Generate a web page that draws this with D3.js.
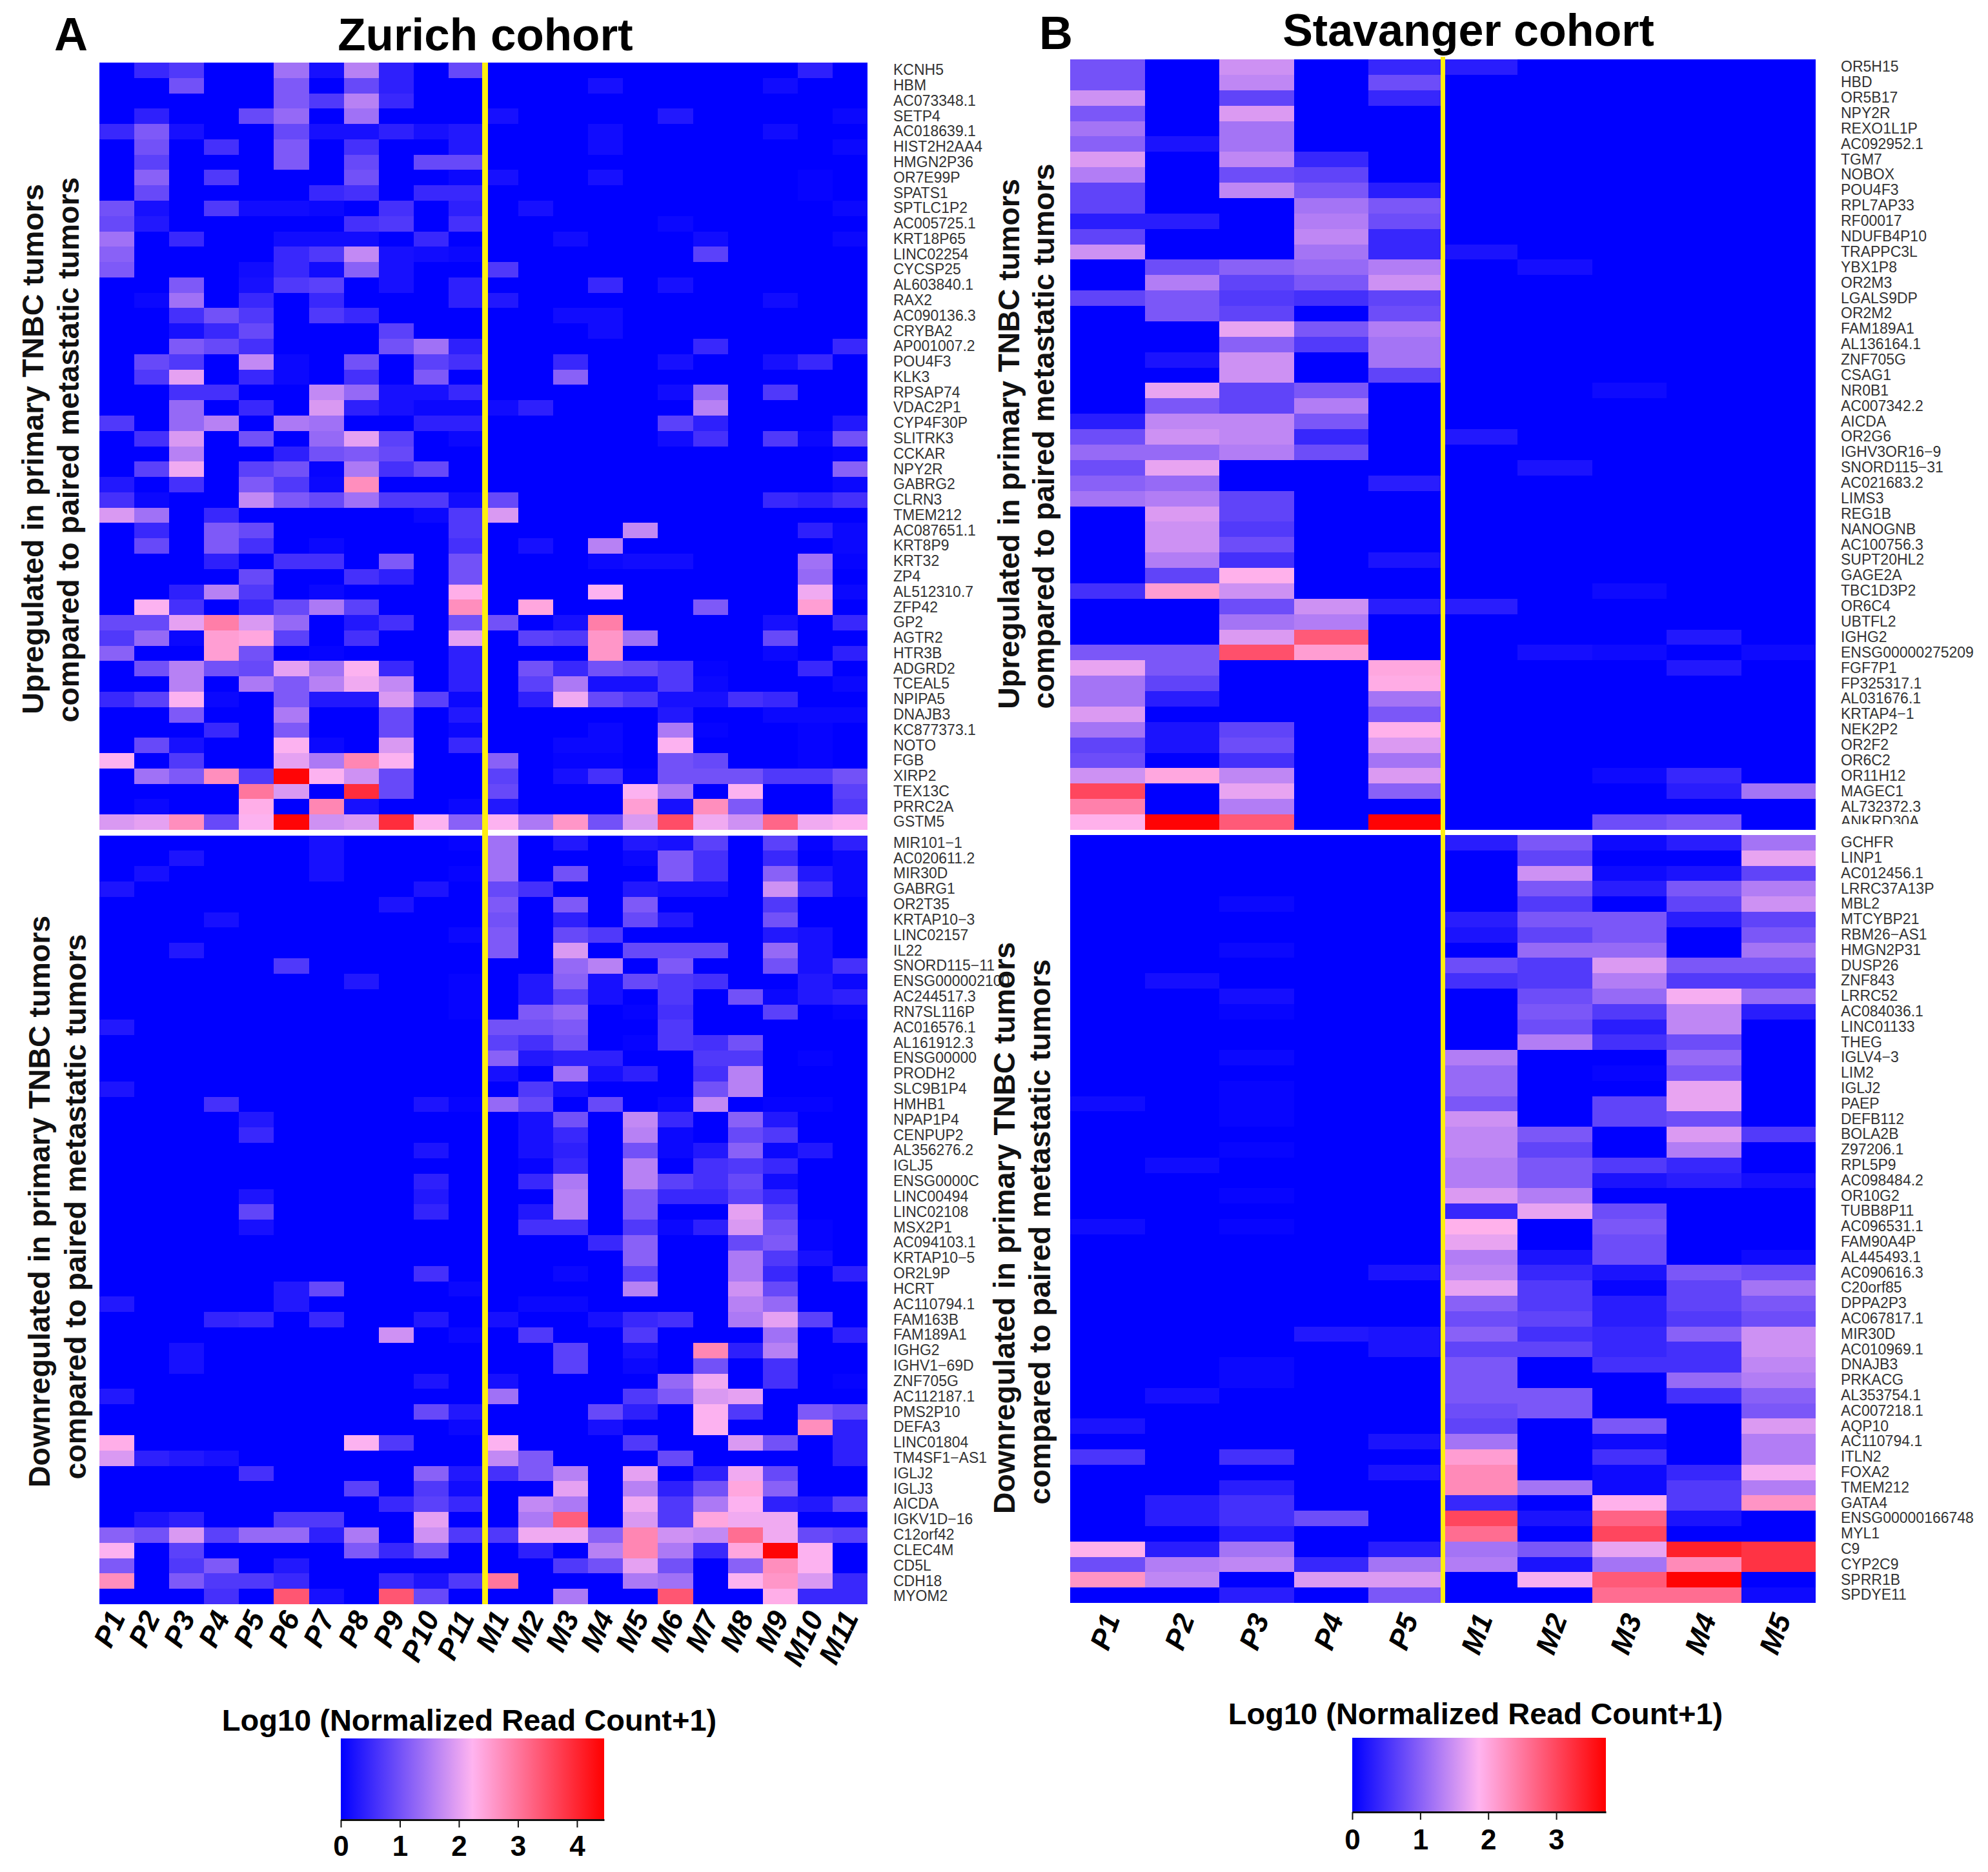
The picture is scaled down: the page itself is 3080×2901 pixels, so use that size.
<!DOCTYPE html>
<html>
<head>
<meta charset="utf-8">
<style>
  html, body { margin: 0; padding: 0; background: #fff; }
  svg { display: block; font-family: "Liberation Sans", Arial, sans-serif; }
</style>
<script src="https://cdn.jsdelivr.net/npm/d3@7"></script>
</head>
<body>
<svg id="chart" width="3080" height="2901"></svg>
<script>
// Sample labels
const zurichSamples = ["P1","P2","P3","P4","P5","P6","P7","P8","P9","P10","P11","M1","M2","M3","M4","M5","M6","M7","M8","M9","M10","M11"];
const stavangerSamples = ["P1","P2","P3","P4","P5","M1","M2","M3","M4","M5"];

// Gene labels
const zurichUpGenes = ["KCNH5","HBM","AC073348.1","SETP4","AC018639.1","HIST2H2AA4","HMGN2P36","OR7E99P","SPATS1","SPTLC1P2","AC005725.1","KRT18P65","LINC02254","CYCSP25","AL603840.1","RAX2","AC090136.3","CRYBA2","AP001007.2","POU4F3","KLK3","RPSAP74","VDAC2P1","CYP4F30P","SLITRK3","CCKAR","NPY2R","GABRG2","CLRN3","TMEM212","AC087651.1","KRT8P9","KRT32","ZP4","AL512310.7","ZFP42","GP2","AGTR2","HTR3B","ADGRD2","TCEAL5","NPIPA5","DNAJB3","KC877373.1","NOTO","FGB","XIRP2","TEX13C","PRRC2A","GSTM5"];
const zurichDownGenes = ["MIR101\u22121","AC020611.2","MIR30D","GABRG1","OR2T35","KRTAP10\u22123","LINC02157","IL22","SNORD115\u221211","ENSG000002100","AC244517.3","RN7SL116P","AC016576.1","AL161912.3","ENSG00000","PRODH2","SLC9B1P4","HMHB1","NPAP1P4","CENPUP2","AL356276.2","IGLJ5","ENSG0000C","LINC00494","LINC02108","MSX2P1","AC094103.1","KRTAP10\u22125","OR2L9P","HCRT","AC110794.1","FAM163B","FAM189A1","IGHG2","IGHV1\u221269D","ZNF705G","AC112187.1","PMS2P10","DEFA3","LINC01804","TM4SF1\u2212AS1","IGLJ2","IGLJ3","AICDA","IGKV1D\u221216","C12orf42","CLEC4M","CD5L","CDH18","MYOM2"];
const stavangerUpGenes = ["OR5H15","HBD","OR5B17","NPY2R","REXO1L1P","AC092952.1","TGM7","NOBOX","POU4F3","RPL7AP33","RF00017","NDUFB4P10","TRAPPC3L","YBX1P8","OR2M3","LGALS9DP","OR2M2","FAM189A1","AL136164.1","ZNF705G","CSAG1","NR0B1","AC007342.2","AICDA","OR2G6","IGHV3OR16\u22129","SNORD115\u221231","AC021683.2","LIMS3","REG1B","NANOGNB","AC100756.3","SUPT20HL2","GAGE2A","TBC1D3P2","OR6C4","UBTFL2","IGHG2","ENSG00000275209","FGF7P1","FP325317.1","AL031676.1","KRTAP4\u22121","NEK2P2","OR2F2","OR6C2","OR11H12","MAGEC1","AL732372.3","ANKRD30A"];
const stavangerDownGenes = ["GCHFR","LINP1","AC012456.1","LRRC37A13P","MBL2","MTCYBP21","RBM26\u2212AS1","HMGN2P31","DUSP26","ZNF843","LRRC52","AC084036.1","LINC01133","THEG","IGLV4\u22123","LIM2","IGLJ2","PAEP","DEFB112","BOLA2B","Z97206.1","RPL5P9","AC098484.2","OR10G2","TUBB8P11","AC096531.1","FAM90A4P","AL445493.1","AC090616.3","C20orf85","DPPA2P3","AC067817.1","MIR30D","AC010969.1","DNAJB3","PRKACG","AL353754.1","AC007218.1","AQP10","AC110794.1","ITLN2","FOXA2","TMEM212","GATA4","ENSG00000166748","MYL1","C9","CYP2C9","SPRR1B","SPDYE11"];

// Log10 values, one row per gene, columns as in the sample arrays
const zurichUpValues = [
[0,.5,.7,0,0,1.4,.2,1.6,.4,0,.9, 0,0,0,0,0,0,0,0,0,.4,0],
[0,0,1,0,0,1.1,0,.9,.4,0,0, 0,0,0,.2,0,0,0,0,.15,0,0],
[0,0,0,0,0,1.1,.7,1.6,.5,0,0, 0,0,0,0,0,0,0,0,0,0,0],
[0,.4,0,0,.9,1.3,0,1.4,0,0,0, .2,0,0,0,0,.3,0,0,0,0,.1],
[.5,1.1,.2,0,0,.9,.2,.2,.4,.2,.3, 0,0,0,.15,0,0,0,0,.15,0,0],
[0,1,0,.6,0,1.1,0,.6,0,0,.3, 0,0,0,.15,0,0,0,0,0,0,.1],
[0,.8,0,0,0,1.1,0,.9,0,.9,.9, 0,0,0,0,0,0,0,0,0,0,0],
[0,1.2,0,.7,0,0,0,1,0,0,.1, .2,0,0,.2,0,0,0,0,0,.05,0],
[0,.9,0,0,0,0,.5,.6,0,.5,.5, 0,0,0,0,0,0,0,0,0,.05,0],
[1,.2,0,.7,.15,.15,.1,0,.6,0,.4, 0,.2,0,0,0,0,0,0,0,0,.1],
[.9,.3,0,0,0,0,0,.6,.7,0,.6, 0,0,0,0,0,.1,0,0,0,0,0],
[1.4,0,.5,0,0,.15,.15,.15,0,.5,0, 0,0,.15,0,0,0,.15,0,0,0,.1],
[1.2,0,0,0,0,.5,.7,1.7,.2,.15,.1, 0,0,0,0,0,0,.8,0,0,0,0],
[1.1,0,0,0,.15,.5,.15,1.2,.2,0,0, .7,0,0,0,0,0,0,0,0,0,0],
[0,0,1.1,0,.2,.7,.8,0,.2,0,.4, 0,0,0,.5,0,.2,0,0,0,0,0],
[0,.1,1.4,0,.5,0,.5,0,0,0,.4, .3,0,0,0,0,0,0,0,.15,0,0],
[0,0,.6,1,.7,0,.7,.5,0,0,0, 0,0,.15,.15,0,0,0,0,0,0,0],
[0,0,.2,.5,.9,0,0,0,.8,0,0, 0,0,0,.15,0,0,0,0,0,0,0],
[0,0,1.1,.9,.6,0,0,0,1,1.4,.4, 0,0,0,0,0,0,.5,0,0,0,.5],
[0,.9,.7,0,1.7,.1,0,1,0,.8,.6, 0,0,.5,0,0,.2,0,0,.2,.5,0],
[0,.7,2,0,.5,.1,0,.6,0,1.1,0, 0,0,1.2,0,0,0,0,0,0,0,0],
[0,0,.6,.6,0,0,1.7,1.3,.2,.2,.5, 0,0,0,0,0,.15,1.3,0,.7,0,0],
[0,0,1.3,0,.5,0,1.9,.4,.2,.1,.1, .15,.4,0,0,0,0,1.6,0,0,0,0],
[.7,0,1.3,1.6,0,1.5,1.4,0,0,.4,.4, 0,0,0,0,0,.8,.4,0,0,0,.3],
[0,.6,1.9,0,1,0,1.3,2,.8,0,.1, 0,0,0,0,0,.15,.6,0,.7,.1,1],
[0,0,1.6,0,0,.4,1,1.1,.9,0,0, 0,0,0,0,0,0,0,0,0,0,.05],
[0,.8,2.1,0,.8,1,.05,1.5,.6,.9,0, 0,0,0,0,0,0,0,0,0,0,1.2],
[.3,0,.6,0,1.1,.7,.1,2.7,0,0,0, 0,0,0,0,0,0,0,0,0,0,.1],
[.6,.1,0,0,1.7,1.1,.9,1.4,.7,.7,.15, .9,0,0,0,0,0,0,0,.5,.4,.6],
[1.9,1.4,0,.5,0,0,0,0,0,.1,.7, 1.9,0,0,0,0,0,0,0,0,0,0],
[0,.5,0,1.1,.9,0,0,0,0,0,.7, 0,0,0,0,1.7,0,0,0,0,.4,.1],
[0,.9,0,1.1,.6,0,.1,0,0,0,.6, 0,.2,0,1.6,0,0,0,0,0,0,.1],
[0,0,0,.4,0,.6,.6,0,1.1,0,1, 0,0,0,.1,.15,.15,0,0,0,1.4,.05],
[0,0,0,0,.9,0,0,.6,.4,0,1, 0,0,0,0,0,0,0,0,0,1.3,0],
[0,0,.4,1.6,.7,0,.1,0,0,0,2.3, 0,0,0,2.2,0,0,0,0,0,2.1,.1],
[0,2.2,.6,0,.5,.9,1.5,.8,0,0,2.7, 0,2.4,0,0,0,0,1.1,0,0,2.5,0],
[.9,.9,2,2.9,1.9,1.3,0,.3,.6,0,1, 1,0,.2,2.9,0,0,0,0,.2,0,.5],
[.7,1.3,.1,2.5,2.4,.8,0,.6,0,0,2, 0,.8,.7,2.6,1.4,0,0,0,.9,0,0],
[1.2,0,0,2.5,1,0,.05,0,0,0,.4, 0,0,0,2.6,0,0,0,0,.1,0,.4],
[0,1,1.6,1,.9,2,1.4,2.2,.5,0,.4, 0,1,.5,1,.9,.7,.05,0,0,.5,0],
[0,0,1.6,0,1.5,1.1,1.6,2.1,1.7,0,.4, 0,.8,1.5,.2,.2,.7,.1,0,0,0,.1],
[.5,.8,2.2,.1,0,1.1,.3,.3,1.9,.8,.1, 0,.4,2.1,.9,.7,.2,.2,.6,.5,0,0],
[0,0,1.1,0,0,1.5,0,0,.9,0,.3, 0,0,0,0,0,.3,0,0,.1,.1,.1],
[0,0,0,.5,0,1.1,0,0,.9,0,.1, 0,0,0,.1,0,1.5,.05,0,0,.05,0],
[0,.9,.2,0,0,2.2,.1,0,1.9,0,.5, 0,0,.1,.1,0,2.2,0,0,0,.05,0],
[2.2,0,.7,0,0,2,1.5,2.8,2.2,0,0, 1.2,0,.05,.05,0,1,.9,0,0,.05,0],
[0,1.4,1.1,2.7,.7,4.4,2.2,1.8,.9,0,0, .8,0,.2,.6,.05,1,1,1,.7,.7,1],
[0,0,0,0,3,1.9,0,3.9,.9,0,0, .9,0,0,0,2.2,1.5,0,2.2,0,0,.8],
[0,.1,0,0,2.3,0,2.8,.2,0,0,.1, .3,0,0,0,2.5,.2,2.7,1.1,0,0,.7],
[1.9,2,2.7,.9,2.2,4.4,1.8,1.9,3.9,2.2,1.2, 2.2,1.5,2.6,1,1.9,3.5,2.1,1.8,3.2,2.1,2.2]
];
const zurichDownValues = [
[0,0,0,0,0,0,.2,0,0,0,.05, 1.4,0,.3,0,.3,.2,.8,0,.8,.05,.4],
[0,0,.25,0,0,0,.2,0,0,0,0, 1.4,0,0,0,.1,1.1,.6,0,.5,0,.1],
[0,.2,0,0,0,0,.2,0,0,0,.05, 1.4,0,1,0,0,1.1,.6,0,1.2,.3,.1],
[.25,0,0,0,0,0,0,0,0,.25,0, .9,.6,0,0,.3,.2,.2,0,1.8,.6,.1],
[0,0,0,0,0,0,0,0,.25,0,0, 1.1,0,1.1,0,1.1,0,0,0,.7,0,0],
[0,0,0,.2,0,0,0,0,0,0,0, 1,0,.4,0,.9,.3,0,0,1,0,0],
[0,0,0,0,0,0,0,0,0,0,.1, 1.1,0,.9,.7,0,0,0,0,.3,.2,0],
[0,0,.3,0,0,0,0,0,0,0,0, 1.1,0,1.9,0,.9,.9,.9,0,1.3,.2,0],
[0,0,0,0,0,.7,0,0,0,0,0, 0,0,1.3,1.6,0,1.1,0,0,1,.2,.6],
[0,0,0,0,0,0,0,.3,0,0,.05, 0,.3,1.2,.2,.9,.7,.6,0,0,.3,.1],
[0,0,0,0,0,0,0,0,0,0,.05, 0,.3,.8,.2,0,.7,0,1,.1,.3,.4],
[0,0,0,0,0,0,0,0,0,0,.05, 0,1.1,1.3,0,.05,.6,0,0,.8,0,.05],
[.3,0,0,0,0,0,0,0,0,0,0, 1,1,1.1,0,0,.7,0,0,0,0,0],
[0,0,0,0,0,0,0,0,0,0,0, .8,.6,1,0,.05,.7,.6,1,0,0,0],
[0,0,0,0,0,0,0,0,0,0,0, 1.2,.3,.4,.4,0,0,.7,.7,0,.05,0],
[0,0,0,0,0,0,0,0,0,0,0, .2,0,1.4,.2,.4,0,.6,1.6,0,0,0],
[.25,0,0,0,0,0,0,0,0,0,0, 0,.7,.2,0,0,0,1,1.6,0,0,0],
[0,0,0,.6,0,0,0,0,0,.25,.05, 1.3,.9,0,.9,0,.1,1.7,0,.05,.05,0],
[0,0,0,0,.3,0,0,0,0,0,0, 0,.2,1,0,1.7,.5,0,1.2,.3,0,0],
[0,0,0,0,.5,0,0,0,0,0,0, 0,.2,.5,0,1.6,.1,0,.9,.7,0,0],
[0,0,0,0,0,0,0,0,0,.25,0, 0,.2,.4,0,1,.1,.3,1.2,.1,.3,0],
[0,0,0,0,0,0,0,0,0,0,0, 0,.05,.5,0,1.6,0,.6,.7,.5,0,0],
[0,0,0,0,0,0,0,0,0,.4,0, 0,.5,1.5,0,1.6,.8,.6,.9,.15,0,0],
[0,0,0,0,.25,0,0,0,0,.3,0, 0,0,1.6,0,1.1,.5,.5,.8,.5,0,0],
[0,0,0,0,.85,0,0,0,0,.45,0, 0,.3,1.6,0,1.1,0,0,2,.8,0,0],
[0,0,0,0,.2,0,0,0,0,0,0, 0,.6,.6,0,.7,.1,.4,1.9,1,.05,0],
[0,0,0,0,0,0,0,0,0,0,0, 0,0,0,.5,1.2,0,0,.9,1.1,.05,0],
[0,0,0,0,0,0,0,0,0,0,0, 0,0,0,0,1.2,0,0,1.5,.7,.2,0],
[0,0,0,0,0,0,0,0,0,.6,0, 0,0,.1,0,.8,0,0,1.5,.5,0,.4],
[0,0,0,0,0,.3,.9,0,0,0,.1, 0,0,0,0,1.6,0,0,1.8,.9,0,0],
[.3,0,0,0,0,.3,0,0,0,0,0, 0,.1,.1,0,0,0,0,1.6,1.3,0,0],
[0,0,0,.45,.5,0,.5,0,0,.3,0, .2,0,0,.2,.5,.6,0,1.5,2,.8,0],
[0,0,0,0,0,0,0,0,1.8,0,.1, 0,.7,0,0,.7,0,0,0,1.4,0,.4],
[0,0,.2,0,0,0,0,0,0,0,0, 0,0,.8,0,.2,0,2.8,.4,1.6,0,0],
[0,0,.2,0,0,0,0,0,0,0,0, 0,0,.8,0,.1,0,1,0,.6,0,0],
[0,0,0,0,0,0,0,0,0,.25,0, .2,0,0,0,0,1.3,2.1,0,.6,0,.05],
[.3,0,0,0,0,0,0,0,0,0,0, 1.4,0,0,0,.7,1.1,1.9,2,0,0,0],
[0,0,0,0,0,0,0,0,0,.9,.3, 0,0,0,.9,.4,0,2.2,.7,0,1.1,.9],
[0,0,0,0,0,0,0,0,0,0,.1, 0,0,0,.2,0,0,2.2,0,0,2.7,.4],
[2.3,0,0,0,0,0,0,2.2,.7,0,0, 2.2,0,0,0,.7,0,0,1.9,1,0,.4],
[1.9,.4,.3,.2,0,0,0,0,0,0,0, 1.7,1.1,0,0,0,.9,0,0,0,0,.4],
[0,0,0,0,.6,0,0,0,0,1.2,.3, .6,1.1,1.6,0,2,0,.4,2.1,.9,0,0],
[0,0,0,0,0,0,0,.8,0,.7,.15, 0,0,2,0,1.6,.4,1,2.4,1.2,0,0],
[0,0,0,0,0,0,0,0,.5,.8,.5, 0,1.7,1.5,0,2.1,.7,1.5,2.2,.4,.3,.8],
[0,.25,.4,0,0,.7,.7,0,0,2,0, 0,1.5,3.3,0,1.9,.7,2.4,2.1,2.1,0,0],
[1.2,1,1.9,.8,1.3,1.3,.4,1.5,0,1.8,.7, .7,2.1,2.1,1.2,2.8,1.8,1.7,3.1,2.1,.9,.8],
[2.2,0,.8,0,0,0,0,1.1,.5,1,0, 0,.4,0,1.6,2.8,1.5,.5,2.4,4.4,2.2,0],
[1.1,0,.7,1.1,0,.3,0,0,0,0,0, 0,0,.7,1,2,1,0,1.2,2.7,2.2,0],
[2.7,0,1.1,.7,.7,.5,0,0,.5,.25,.7, 3,0,0,0,1.5,1.4,0,2.2,2.6,1.9,.5],
[0,0,0,.6,0,3.4,.2,0,3.4,.9,0, 0,0,1.5,0,0,3.4,0,0,2.3,.5,.5]
];
const stavangerUpValues = [
[.85,0,1.5,0,.4, .3,0,0,0,0],
[.85,0,1.4,0,.8, 0,0,0,0,0],
[1.5,0,.7,0,.4, 0,0,0,0,0],
[.9,0,1.6,0,0, 0,0,0,0,0],
[1.2,0,1.2,0,0, 0,0,0,0,0],
[1,.2,1.2,0,0, 0,0,0,0,0],
[1.6,0,1.4,.4,0, 0,0,0,0,0],
[1.3,0,.8,.7,0, 0,0,0,0,0],
[.7,0,1.4,.9,.3, 0,0,0,0,0],
[.7,0,0,1.2,.9, 0,0,0,0,0],
[.3,.3,0,1.3,.8, 0,0,0,0,0],
[.7,0,0,1.4,.4, 0,0,0,0,0],
[1.5,0,0,1.2,.4, .2,0,0,0,0],
[0,.8,1,1.1,1.3, 0,.15,0,0,0],
[0,1.3,.7,.9,1.5, 0,0,0,0,0],
[.7,.9,.6,.5,.7, 0,0,0,0,0],
[0,.9,.7,0,.8, 0,0,0,0,0],
[0,0,1.7,.9,1.3, 0,0,0,0,0],
[0,0,1,.6,1.2, 0,0,0,0,0],
[0,.2,1.5,0,1.2, 0,0,0,0,0],
[0,0,1.5,0,.7, 0,0,0,0,0],
[0,1.7,.7,.9,0, 0,0,.1,0,0],
[0,.9,.7,1.3,0, 0,0,0,0,0],
[.3,1.4,1.4,.9,0, 0,0,0,0,0],
[.8,1.5,1.4,.4,0, .25,0,0,0,0],
[1.1,1.1,1.3,.8,0, 0,0,0,0,0],
[.8,1.7,0,0,0, 0,.2,0,0,0],
[1,1.1,0,0,.3, 0,0,0,0,0],
[1.2,1.3,.7,0,0, 0,0,0,0,0],
[0,1.6,.7,0,0, 0,0,0,0,0],
[0,1.5,.6,0,0, 0,0,0,0,0],
[0,1.5,.8,0,0, 0,0,0,0,0],
[0,1.3,.5,0,.2, 0,0,0,0,0],
[0,.7,1.9,0,0, 0,0,0,0,0],
[.5,2.1,1.5,0,0, 0,0,.1,0,0],
[0,0,.8,1.5,.3, .3,0,0,0,0],
[0,0,1.2,1.3,0, 0,0,0,0,0],
[0,0,1.6,2.8,0, 0,0,0,.25,0],
[.9,.9,2.9,2.1,0, 0,.15,.1,0,.1],
[1.7,.9,0,0,2, 0,0,0,.25,0],
[1.2,.7,0,0,1.95, 0,0,0,0,0],
[1.2,.3,0,0,1.2, 0,0,0,0,0],
[1.6,0,0,0,.9, 0,0,0,0,0],
[1.2,.2,.7,0,1.9, 0,0,0,0,0],
[.7,.2,.8,0,1.6, 0,0,0,0,0],
[.8,0,.5,0,1.2, 0,0,0,0,0],
[1.5,2,1.4,0,1.6, 0,0,.1,.4,0],
[3,0,1.7,0,1, 0,0,0,.3,1.2],
[2.4,0,1.3,0,0, 0,0,0,0,0],
[1.9,3.7,2.8,0,3.7, 0,0,.8,.9,0]
];
const stavangerDownValues = [
[0,0,0,0,0, .3,.9,.1,.3,1.2],
[0,0,0,0,0, 0,.7,0,0,1.7],
[0,0,0,0,0, 0,1.5,.1,.2,.7],
[0,0,0,0,0, 0,.9,.3,.9,1.3],
[0,0,.08,0,0, 0,.6,0,.7,1.5],
[0,0,0,0,0, .3,.9,.9,.3,.7],
[0,0,0,0,0, .2,.7,.9,0,.9],
[0,0,.08,0,0, 0,1.1,1.1,0,1.2],
[0,0,0,0,0, .8,.6,1.6,.9,.9],
[0,.15,0,0,0, .5,.6,1.3,.6,.6],
[0,0,.15,0,0, 0,.8,1.1,1.8,1.1],
[0,0,.05,0,0, 0,.9,.6,1.4,.3],
[0,0,0,0,0, 0,.8,.3,1.4,0],
[0,0,0,0,0, 0,1.3,.5,.8,0],
[0,0,.08,0,0, 1.3,0,0,1.1,0],
[0,0,0,0,0, 1.1,0,.05,.9,0],
[0,0,.05,0,0, 1.1,0,0,1.7,0],
[.12,0,.05,0,0, .9,0,.7,1.7,0],
[0,0,.05,0,0, 1.5,0,.7,.8,0],
[0,0,0,0,0, 1.4,.9,0,1.6,.6],
[0,0,.05,0,0, 1.4,.7,0,1.3,0],
[0,.12,0,0,0, 1.3,.9,.6,.4,0],
[0,0,0,0,0, 1.3,.9,.2,.3,.15],
[0,0,.05,0,0, 1.6,1.3,0,0,0],
[0,0,0,0,0, .4,1.7,.8,0,0],
[.12,0,.05,0,0, 1.9,0,.9,0,0],
[0,0,0,0,0, 1.7,0,.8,0,0],
[0,0,0,0,0, 1.3,.2,.8,0,.1],
[0,0,0,0,.2, 1.4,.4,.2,.9,.8],
[0,0,0,0,0, 1.7,.6,.05,.7,1.2],
[0,0,0,0,0, 1,.6,.3,.7,.9],
[0,0,0,0,0, .8,.7,.3,.6,.8],
[0,0,0,.25,.2, 1,.5,.4,1,1.5],
[0,0,0,0,.2, .7,.7,.4,.5,1.5],
[0,0,.08,0,0, .9,0,.5,.5,1.4],
[0,0,.08,0,0, .9,0,0,1.1,1.3],
[0,.15,0,0,0, .9,.9,0,.5,1],
[0,0,0,0,0, .8,.9,0,0,.9],
[.2,0,0,0,0, .7,0,.9,0,1.6],
[0,0,0,0,.2, 1.2,0,.1,0,1.3],
[.55,0,.5,0,0, 2.1,0,.5,0,1.3],
[0,0,0,0,.2, 2.3,0,.1,.4,1.8],
[0,0,.3,0,0, 2.3,1.2,.1,.6,1.3],
[0,.3,.5,0,0, .4,0,1.9,.6,2.2],
[0,.3,.5,.8,0, 3,.2,2.7,.2,0],
[0,0,.3,0,0, 2.6,0,3,0,0],
[1.9,.3,1.2,0,.3, 1.2,.9,1.7,3.4,3.2],
[.8,1.3,1.4,.4,1.2, 1.3,.2,1.2,2.3,3.2],
[2.2,1.4,0,1.6,1.6, 0,1.8,2.8,3.7,0],
[0,0,.3,0,.9, 0,0,2.6,2.6,.1]
];

const zurichTicks = [0, 1, 2, 3, 4];
const stavangerTicks = [0, 1, 2, 3];
const rampColors = ["#0000ff", "#ffb4f0", "#ff0000"];
const legendTitle = "Log10 (Normalized Read Count+1)";

const svg = d3.select("#chart");
const defs = svg.append("defs");
svg.append("rect").attr("width", 3080).attr("height", 2901).attr("fill", "#fff");

function makeColor(maxValue) {
  return d3.scaleLinear().domain([0, maxValue / 2, maxValue]).range(rampColors);
}

function drawBlock(x, color, values, genes, top, bottom, labelX) {
  const y = d3.scaleBand().domain(genes).range([top, bottom]);
  const g = svg.append("g");

  values.forEach((row, i) => {
    g.selectAll(null)
      .data(row)
      .join("rect")
      .attr("x", (d, j) => x(x.domain()[j]))
      .attr("y", y(genes[i]))
      .attr("width", x.bandwidth())
      .attr("height", y.bandwidth())
      .attr("fill", (d) => color(d))
      .attr("shape-rendering", "crispEdges");
  });

  const axis = svg.append("g")
    .attr("transform", `translate(${labelX},0)`)
    .call(d3.axisRight(y).tickSize(0).tickPadding(0));
  axis.select(".domain").remove();
  axis.selectAll("text")
    .attr("font-size", 23)
    .attr("font-family", '"Liberation Sans", Arial, sans-serif')
    .attr("fill", "#333");
}

function drawSampleLabels(x, samples, labelY, shift, angle) {
  svg.append("g")
    .selectAll("text")
    .data(samples)
    .join("text")
    .attr("transform", (d) => `translate(${x(d) + x.bandwidth() / 2 + shift},${labelY}) rotate(${angle})`)
    .attr("text-anchor", "end")
    .attr("font-size", 45)
    .attr("font-weight", "bold")
    .attr("font-style", "italic")
    .attr("fill", "#000")
    .text((d) => d);
}

function sideLabel(text, x, y) {
  svg.append("text")
    .attr("transform", `translate(${x},${y}) rotate(-90)`)
    .attr("text-anchor", "middle")
    .attr("font-size", 46.5)
    .attr("font-weight", "bold")
    .attr("fill", "#111")
    .text(text);
}

function drawLegend(id, color, maxValue, ticks, left, right, top, bottom, titleX, titleY, labelY) {
  const scale = d3.scaleLinear().domain([0, maxValue]).range([left, right]);
  const grad = defs.append("linearGradient").attr("id", id);
  grad.selectAll("stop")
    .data(d3.range(0, 1.001, 0.05))
    .join("stop")
    .attr("offset", (d) => d)
    .attr("stop-color", (d) => color(d * maxValue));

  svg.append("rect")
    .attr("x", left).attr("y", top)
    .attr("width", right - left).attr("height", bottom - top)
    .attr("fill", `url(#${id})`);

  svg.append("text")
    .attr("x", titleX).attr("y", titleY)
    .attr("text-anchor", "middle")
    .attr("font-size", 47)
    .attr("font-weight", "bold")
    .text(legendTitle);

  const axis = svg.append("g")
    .attr("transform", `translate(0,${bottom})`)
    .call(d3.axisBottom(scale).tickValues(ticks).tickFormat(d3.format("d")).tickSize(12).tickSizeOuter(0));
  axis.select(".domain").attr("stroke", "#111").attr("stroke-width", 3);
  axis.selectAll(".tick line").attr("stroke", "#111").attr("stroke-width", 2);
  axis.selectAll("text")
    .attr("y", labelY - bottom)
    .attr("dy", 0)
    .attr("font-size", 44)
    .attr("font-weight", "bold")
    .attr("font-family", '"Liberation Sans", Arial, sans-serif')
    .attr("fill", "#000");
}

// Panel A
const zurichMax = 4.46;
const zurichColor = makeColor(zurichMax);
const zurichX = d3.scaleBand().domain(zurichSamples).range([154, 1344]);
drawBlock(zurichX, zurichColor, zurichUpValues, zurichUpGenes, 97, 1286, 1384);
drawBlock(zurichX, zurichColor, zurichDownValues, zurichDownGenes, 1294.5, 2486, 1384);
svg.append("rect").attr("x", 747).attr("y", 97).attr("width", 9).attr("height", 2389).attr("fill", "#ffee10");
drawSampleLabels(zurichX, zurichSamples, 2506, 14, -65);

// Panel B
const stavangerMax = 3.73;
const stavangerColor = makeColor(stavangerMax);
const stavangerX = d3.scaleBand().domain(stavangerSamples).range([1658, 2813]);
drawBlock(stavangerX, stavangerColor, stavangerUpValues, stavangerUpGenes, 92, 1286, 2852);
drawBlock(stavangerX, stavangerColor, stavangerDownValues, stavangerDownGenes, 1294, 2484, 2852);
svg.append("rect").attr("x", 2232).attr("y", 88).attr("width", 7).attr("height", 2396).attr("fill", "#ffee10");
drawSampleLabels(stavangerX, stavangerSamples, 2508, 20, -70);

// Last gene label of the upper block is cut in the source figure
svg.append("rect").attr("x", 2845).attr("y", 1277).attr("width", 220).attr("height", 10).attr("fill", "#fff");

// Titles
svg.append("text").attr("x", 84).attr("y", 78).attr("font-size", 72).attr("font-weight", "bold").text("A");
svg.append("text").attr("x", 1610).attr("y", 76).attr("font-size", 72).attr("font-weight", "bold").text("B");
svg.append("text").attr("x", 752).attr("y", 78).attr("text-anchor", "middle").attr("font-size", 71).attr("font-weight", "bold").text("Zurich cohort");
svg.append("text").attr("x", 2275).attr("y", 71).attr("text-anchor", "middle").attr("font-size", 70).attr("font-weight", "bold").text("Stavanger cohort");

// Side labels
sideLabel("Upregulated in primary TNBC tumors", 67, 696);
sideLabel("compared to paired metastatic tumors", 122, 697);
sideLabel("Downregulated in primary TNBC tumors", 77, 1862);
sideLabel("compared to paired metastatic tumors", 133, 1870);
sideLabel("Upregulated in primary TNBC tumors", 1579, 688);
sideLabel("compared to paired metastatic tumors", 1633, 676);
sideLabel("Downregulated in primary TNBC tumors", 1572, 1903);
sideLabel("compared to paired metastatic tumors", 1627, 1909);

// Legends
drawLegend("rampA", zurichColor, zurichMax, zurichTicks, 528, 936, 2694, 2820, 727, 2682, 2876);
drawLegend("rampB", stavangerColor, stavangerMax, stavangerTicks, 2095, 2488, 2693, 2808, 2286, 2672, 2866);
</script>
</body>
</html>
